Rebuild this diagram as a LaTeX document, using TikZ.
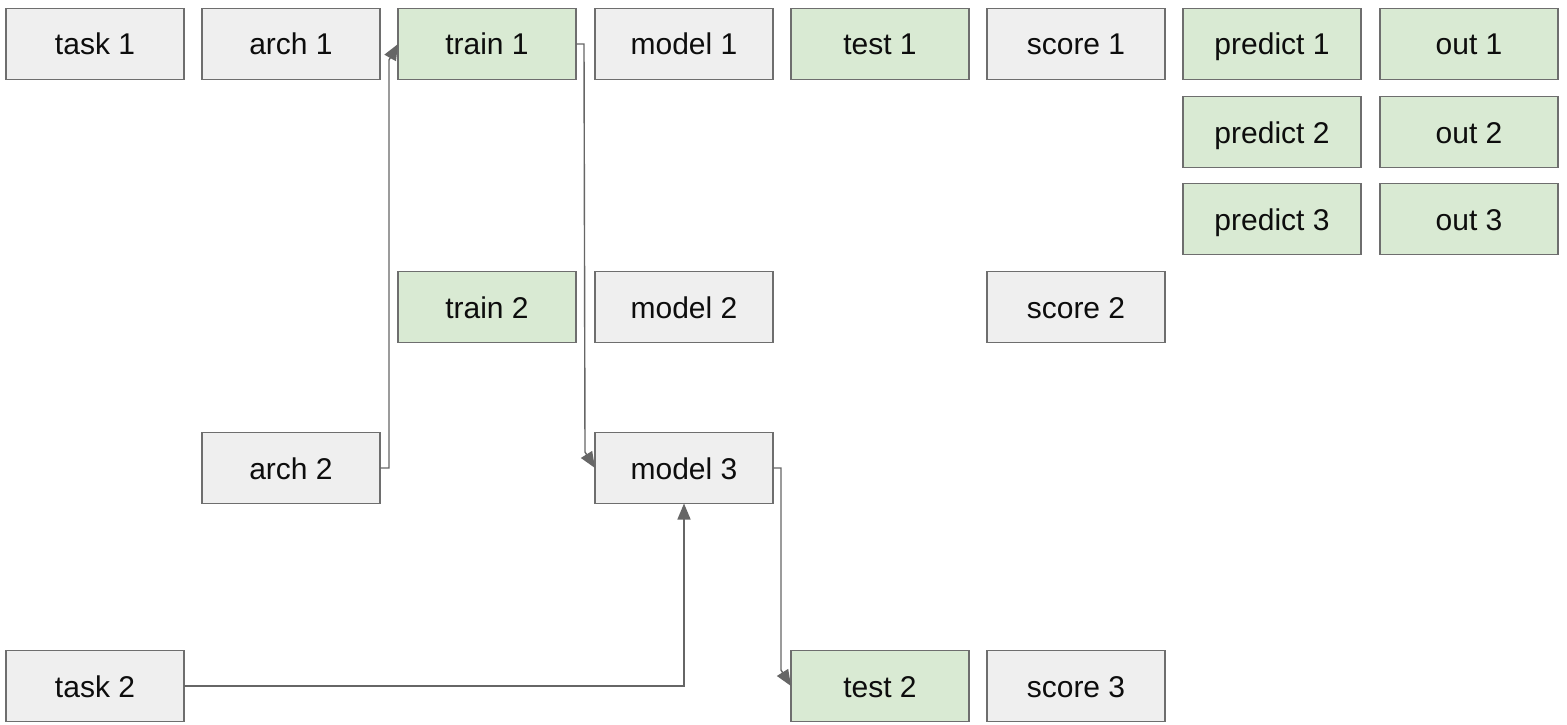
\documentclass[tikz,border=0pt]{standalone}
\usepackage{fontspec}
\setmainfont{Liberation Sans}
\usetikzlibrary{arrows.meta}
\definecolor{boxgray}{HTML}{EFEFEF}
\definecolor{boxgreen}{HTML}{D9EAD3}
\definecolor{edgegray}{HTML}{6E6E6E}
\definecolor{linegray}{HTML}{666666}
\begin{document}
\begin{tikzpicture}[x=1pt,y=-1pt,
  box/.style={draw=edgegray,line width=1.4pt,outer sep=0pt,minimum width=178pt,minimum height=71pt,
    inner sep=0pt,text height=22pt,text depth=0pt,font=\fontsize{30}{34}\selectfont,text=black!95},
  gbox/.style={box,fill=boxgray},
  ggreen/.style={box,fill=boxgreen},
  conn/.style={draw=linegray,line width=1.4pt,-{Triangle[length=16pt,width=13pt]}}]
\useasboundingbox[fill=white] (0,0) rectangle (1567,725);
% row 1
\node[gbox]   (task1)    at (95,44)   {task 1};
\node[gbox]   (arch1)    at (291,44)  {arch 1};
\node[ggreen] (train1)   at (487,44)  {train 1};
\node[gbox]   (model1)   at (684,44)  {model 1};
\node[ggreen] (test1)    at (880,44)  {test 1};
\node[gbox]   (score1)   at (1076,44) {score 1};
\node[ggreen] (predict1) at (1272,44) {predict 1};
\node[ggreen] (out1)     at (1469,44) {out 1};
% rows 2-3
\node[ggreen] (predict2) at (1272,132) {predict 2};
\node[ggreen] (out2)     at (1469,132) {out 2};
\node[ggreen] (predict3) at (1272,219) {predict 3};
\node[ggreen] (out3)     at (1469,219) {out 3};
% row 4
\node[ggreen] (train2)   at (487,307)  {train 2};
\node[gbox]   (model2)   at (684,307)  {model 2};
\node[gbox]   (score2)   at (1076,307) {score 2};
% row 5
\node[gbox]   (arch2)    at (291,468)  {arch 2};
\node[gbox]   (model3)   at (684,468)  {model 3};
% row 6
\node[gbox]   (task2)    at (95,686)   {task 2};
\node[ggreen] (test2)    at (880,686)  {test 2};
\node[gbox]   (score3)   at (1076,686) {score 3};
% connectors
\draw[conn] (arch2.east) -- ++(9,0) -- ([xshift=-9pt,yshift=-16pt]train1.west) -- (train1.west);
\draw[conn] (train1.east) -- ++(8,0) -- ([xshift=-10pt,yshift=16pt]model3.west) -- (model3.west);
\draw[conn] (task2.east) -| (model3.south);
\draw[conn] (model3.east) -- ++(8,0) -- ([xshift=-10pt,yshift=16pt]test2.west) -- (test2.west);
\end{tikzpicture}
\end{document}
